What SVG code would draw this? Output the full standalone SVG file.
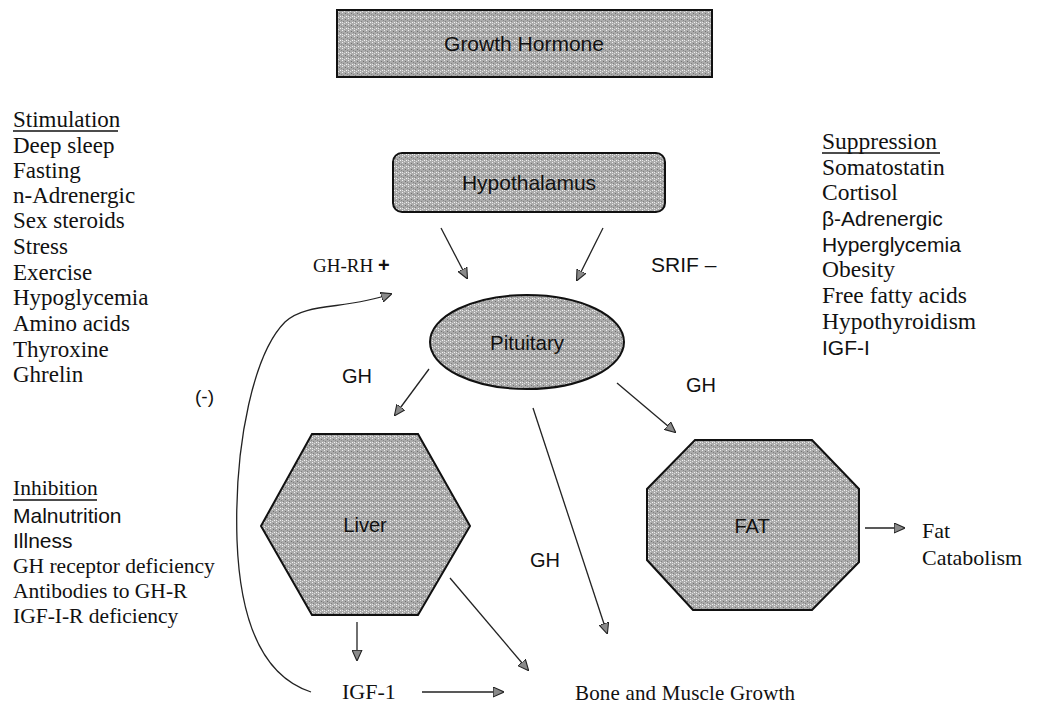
<svg xmlns="http://www.w3.org/2000/svg" width="1053" height="705" viewBox="0 0 1053 705">
<style>
.serif{font-family:"Liberation Serif","Times New Roman",serif;fill:#111}
.sans{font-family:"Liberation Sans",Arial,sans-serif;fill:#111}
.shape{stroke:#111;stroke-width:2;fill:url(#stip)}
.conn{fill:none;stroke:#222;stroke-width:1.3}
.ul{stroke:#111;stroke-width:1.3}
</style>
<defs>
<pattern id="stip" width="6" height="6" patternUnits="userSpaceOnUse">
<rect width="6" height="6" fill="#ababab"/>
<rect x="0" y="0" width="1" height="1" fill="#f0f0f0"/>
<rect x="3" y="1" width="1" height="1" fill="#707070"/>
<rect x="1" y="3" width="1" height="1" fill="#808080"/>
<rect x="4" y="4" width="1" height="1" fill="#f4f4f4"/>
<rect x="2" y="5" width="1" height="1" fill="#e0e0e0"/>
<rect x="5" y="2" width="1" height="1" fill="#888888"/>
<rect x="0" y="4" width="1" height="1" fill="#e8e8e8"/>
</pattern>
<marker id="ah" viewBox="0 0 10 10" refX="9" refY="5" markerWidth="11" markerHeight="11" markerUnits="userSpaceOnUse" orient="auto">
<path d="M0,0.5 L10,5 L0,9.5 Z" fill="#8a8a8a" stroke="#222" stroke-width="1"/>
</marker>
</defs>

<g id="growth-hormone">
<rect x="337" y="10" width="375" height="67" class="shape"/>
<text x="524" y="51" text-anchor="middle" class="sans" font-size="21">Growth Hormone</text>
</g>

<g id="hypothalamus">
<rect x="393" y="153" width="272" height="59" rx="9" class="shape"/>
<text x="529" y="190" text-anchor="middle" class="sans" font-size="21">Hypothalamus</text>
</g>

<g id="pituitary">
<ellipse cx="527" cy="342" rx="97" ry="47" class="shape"/>
<text x="527" y="350" text-anchor="middle" class="sans" font-size="20.5">Pituitary</text>
</g>

<g id="liver">
<polygon points="312,434 418,434 470,526 418,615 312,615 261,526" class="shape"/>
<text x="365" y="532" text-anchor="middle" class="sans" font-size="20">Liver</text>
</g>

<g id="fat">
<polygon points="695,440 812,440 859,489 859,562 812,610 693,610 647,560 647,489" class="shape"/>
<text x="752" y="533" text-anchor="middle" class="sans" font-size="20">FAT</text>
</g>

<g id="connectors">
<line x1="441" y1="228" x2="467" y2="278" class="conn" marker-end="url(#ah)"/>
<line x1="603" y1="228" x2="577" y2="280" class="conn" marker-end="url(#ah)"/>
<line x1="429" y1="369" x2="395" y2="415" class="conn" marker-end="url(#ah)"/>
<line x1="533" y1="408" x2="607" y2="633" class="conn" marker-end="url(#ah)"/>
<line x1="617" y1="383" x2="675" y2="432" class="conn" marker-end="url(#ah)"/>
<line x1="357" y1="622" x2="357" y2="660" class="conn" marker-end="url(#ah)"/>
<line x1="450" y1="578" x2="528" y2="670" class="conn" marker-end="url(#ah)"/>
<line x1="422" y1="692" x2="503" y2="692" class="conn" marker-end="url(#ah)"/>
<line x1="865" y1="528" x2="904" y2="528" class="conn" marker-end="url(#ah)"/>
<path d="M311,692 C262,676 240,622 237,540 C234,440 255,352 285,322 C306,302 345,310 391,294" class="conn" marker-end="url(#ah)"/>
</g>

<g id="labels">
<text x="313" y="272" class="serif" font-size="19">GH-RH <tspan class="sans" font-weight="bold" font-size="20">+</tspan></text>
<text x="651" y="272" class="sans" font-size="21">SRIF –</text>
<text x="342" y="383" class="sans" font-size="20">GH</text>
<text x="686" y="392" class="sans" font-size="20">GH</text>
<text x="530" y="567" class="sans" font-size="20">GH</text>
<text x="195" y="403" class="sans" font-size="19">(-)</text>
<text x="342" y="699" class="serif" font-size="22">IGF-1</text>
<text x="575" y="700" class="serif" font-size="21" textLength="220">Bone and  Muscle Growth</text>
<text x="922" y="538" class="serif" font-size="22">Fat</text>
<text x="922" y="565" class="serif" font-size="22">Catabolism</text>
</g>

<g id="stimulation">
<text x="13" y="127" class="serif" font-size="23">Stimulation</text>
<line x1="13" y1="131" x2="118" y2="131" class="ul"/>
<text x="13" y="153" class="serif" font-size="23">Deep sleep</text>
<text x="13" y="178" class="serif" font-size="23">Fasting</text>
<text x="13" y="203" class="serif" font-size="23">n-Adrenergic</text>
<text x="13" y="228" class="serif" font-size="23">Sex steroids</text>
<text x="13" y="254" class="serif" font-size="23">Stress</text>
<text x="13" y="280" class="serif" font-size="23">Exercise</text>
<text x="13" y="305" class="serif" font-size="23">Hypoglycemia</text>
<text x="13" y="331" class="serif" font-size="23">Amino acids</text>
<text x="13" y="357" class="serif" font-size="23">Thyroxine</text>
<text x="13" y="382" class="serif" font-size="23">Ghrelin</text>
</g>

<g id="suppression">
<text x="822" y="149" class="serif" font-size="23.5">Suppression</text>
<line x1="822" y1="153" x2="940" y2="153" class="ul"/>
<text x="822" y="175" class="serif" font-size="23.5">Somatostatin</text>
<text x="822" y="200" class="serif" font-size="23.5">Cortisol</text>
<text x="822" y="226" class="sans" font-size="21">β-Adrenergic</text>
<text x="822" y="252" class="sans" font-size="21">Hyperglycemia</text>
<text x="822" y="277" class="serif" font-size="23.5">Obesity</text>
<text x="822" y="303" class="serif" font-size="23.5">Free fatty acids</text>
<text x="822" y="329" class="serif" font-size="23.5">Hypothyroidism</text>
<text x="822" y="355" class="sans" font-size="21">IGF-I</text>
</g>

<g id="inhibition">
<text x="13" y="495" class="serif" font-size="21.5">Inhibition</text>
<line x1="13" y1="500" x2="97" y2="500" class="ul"/>
<text x="13" y="523" class="sans" font-size="21">Malnutrition</text>
<text x="13" y="548" class="sans" font-size="21">Illness</text>
<text x="13" y="573" class="serif" font-size="21.5">GH  receptor deficiency</text>
<text x="13" y="598" class="serif" font-size="21.5">Antibodies to GH-R</text>
<text x="13" y="623" class="serif" font-size="21.5">IGF-I-R deficiency</text>
</g>
</svg>
